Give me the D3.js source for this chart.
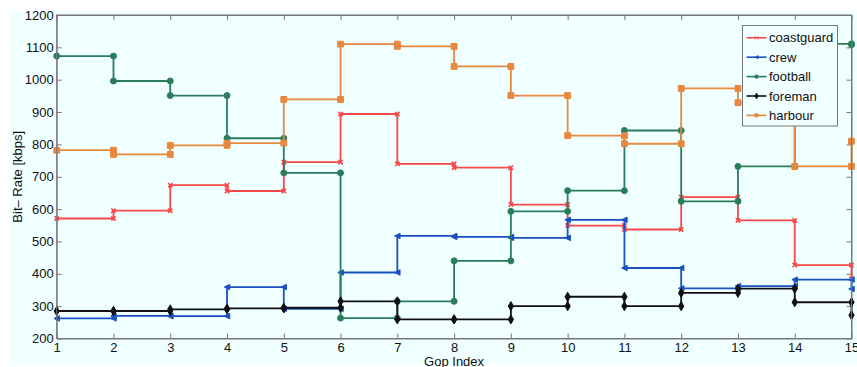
<!DOCTYPE html>
<html>
<head>
<meta charset="utf-8">
<script src="https://cdn.jsdelivr.net/npm/d3@7"></script>
<style>
  body { margin: 0; background: #fff; }
  svg { display: block; font-family: "Liberation Sans", Arial, sans-serif; }
</style>
</head>
<body>
<svg id="chart"></svg>
<script>
// gop indices and bit-rate per sequence (kbps), one value per GOP
const gops = d3.range(1, 16);
const seriesNames = ["coastguard", "crew", "football", "foreman", "harbour"];
const coastguard = [571, 595, 674, 656, 745, 894, 740, 728, 614, 549, 537, 637, 565, 427, 385];
const crew       = [262, 270, 269, 359, 292, 404, 517, 514, 511, 567, 418, 355, 362, 382, 353];
const football   = [1073, 996, 951, 819, 712, 263, 315, 440, 593, 657, 843, 624, 732, 1111, 1108];
const foreman    = [285, 285, 290, 293, 295, 315, 259, 259, 300, 329, 300, 341, 354, 312, 272];
const harbour    = [782, 769, 797, 804, 939, 1110, 1103, 1041, 951, 827, 802, 973, 929, 732, 810];
const yTicks = d3.range(200, 1201, 100);

const W = 857, H = 367;
const margin = { top: 15, right: 5.5, bottom: 28.5, left: 56.7 };
const colors = {
    coastguard: "#f84848",
    crew: "#1a50c0",
    football: "#2a7c5c",
    foreman: "#111111",
    harbour: "#e8883e"
};
const values = { coastguard, crew, football, foreman, harbour };

const svg = d3.select("#chart").attr("width", W).attr("height", H);

// figure background
svg.append("rect")
    .attr("x", 10).attr("y", 11)
    .attr("width", W - 10).attr("height", 354)
    .attr("fill", "#f0ffff");

const x = d3.scaleLinear().domain([1, 15]).range([margin.left, W - margin.right]);
const y = d3.scaleLinear().domain([200, 1200]).range([H - margin.bottom, margin.top]);

const axisColor = "#777";

function styleAxis(g) {
    g.selectAll("line").attr("stroke", axisColor);
    g.selectAll("path").attr("stroke", axisColor);
    g.selectAll("text").attr("fill", "#111").style("font-size", "13px");
}

svg.append("g")
    .attr("transform", `translate(0,${y(200)})`)
    .call(d3.axisBottom(x).tickValues(gops).tickSize(-5).tickSizeOuter(0).tickPadding(4))
    .call(styleAxis);
svg.append("g")
    .attr("transform", `translate(${x(1)},0)`)
    .call(d3.axisLeft(y).tickValues(yTicks).tickFormat(d3.format("d"))
        .tickSize(-5).tickSizeOuter(0).tickPadding(3))
    .call(styleAxis);
svg.append("g")
    .attr("transform", `translate(0,${y(1200)})`)
    .call(d3.axisTop(x).tickValues(gops).tickSize(-5).tickSizeOuter(0).tickFormat(""))
    .call(styleAxis);
svg.append("g")
    .attr("transform", `translate(${x(15)},0)`)
    .call(d3.axisRight(y).tickValues(yTicks).tickSize(-5).tickSizeOuter(0).tickFormat(""))
    .call(styleAxis);

// step points: each gop value held until the next index
function steps(v) {
    const pts = [[1, v[0]]];
    for (let i = 1; i < v.length; i++) {
        pts.push([i + 1, v[i - 1]]);
        pts.push([i + 1, v[i]]);
    }
    return pts;
}

const line = d3.line().x(d => x(d[0])).y(d => y(d[1]));

const leftTriangle = {
    draw(ctx, size) {
        const r = Math.sqrt(size) / 2;
        ctx.moveTo(-r, 0);
        ctx.lineTo(r, -r);
        ctx.lineTo(r, r);
        ctx.closePath();
    }
};

const markers = {
    coastguard: { type: d3.symbolTimes, size: 14, fill: "none", sw: 1.6 },
    crew: { type: leftTriangle, size: 30, fill: null, sw: 1 },
    football: { type: d3.symbolCircle, size: 28, fill: null, sw: 1 },
    foreman: { type: d3.symbolDiamond, size: 24, fill: null, sw: 1 },
    harbour: { type: d3.symbolSquare, size: 34, fill: null, sw: 1 }
};

const plot = svg.append("g");

seriesNames.forEach(name => {
    const pts = steps(values[name]);
    const c = colors[name];
    const m = markers[name];
    const g = plot.append("g").attr("class", "series");
    g.append("path")
        .attr("d", line(pts))
        .attr("fill", "none")
        .attr("stroke", c)
        .attr("stroke-width", 1.8);
    g.selectAll("path.mk")
        .data(pts)
        .join("path")
        .attr("class", "mk")
        .attr("transform", d => `translate(${x(d[0])},${y(d[1])})`)
        .attr("d", d3.symbol().type(m.type).size(m.size))
        .attr("fill", m.fill === null ? c : m.fill)
        .attr("stroke", c)
        .attr("stroke-width", m.sw);
});

// frame
svg.append("rect")
    .attr("x", x(1)).attr("y", y(1200))
    .attr("width", x(15) - x(1)).attr("height", y(200) - y(1200))
    .attr("fill", "none")
    .attr("stroke", axisColor);

// axis titles
svg.append("text")
    .attr("x", (x(1) + x(15)) / 2)
    .attr("y", 365.5)
    .attr("text-anchor", "middle")
    .style("font-size", "13px")
    .attr("fill", "#111")
    .text("Gop Index");

svg.append("text")
    .attr("transform", `translate(22,${(y(200) + y(1200)) / 2}) rotate(-90)`)
    .attr("text-anchor", "middle")
    .style("font-size", "13px")
    .attr("fill", "#111")
    .text("Bit\u2013 Rate [kbps]");

// legend
const legend = svg.append("g").attr("transform", "translate(742.5,25.5)");
legend.append("rect")
    .attr("width", 95).attr("height", 100.5)
    .attr("fill", "#f0ffff")
    .attr("stroke", axisColor);

const item = legend.selectAll(".legend-item")
    .data(seriesNames)
    .join("g")
    .attr("class", "legend-item")
    .attr("transform", (d, i) => `translate(0,${12.3 + i * 19.4})`);

item.append("line")
    .attr("x1", 4).attr("x2", 24)
    .attr("stroke", d => colors[d])
    .attr("stroke-width", 1.6);

item.append("path")
    .attr("transform", "translate(14,0)")
    .attr("d", d => d3.symbol().type(markers[d].type).size(10)())
    .attr("fill", d => markers[d].fill === null ? colors[d] : "none")
    .attr("stroke", d => colors[d])
    .attr("stroke-width", 0.8);

item.append("text")
    .attr("x", 26.5)
    .attr("dy", "0.35em")
    .style("font-size", "13px")
    .attr("fill", "#111")
    .text(d => d);
</script>
</body>
</html>
